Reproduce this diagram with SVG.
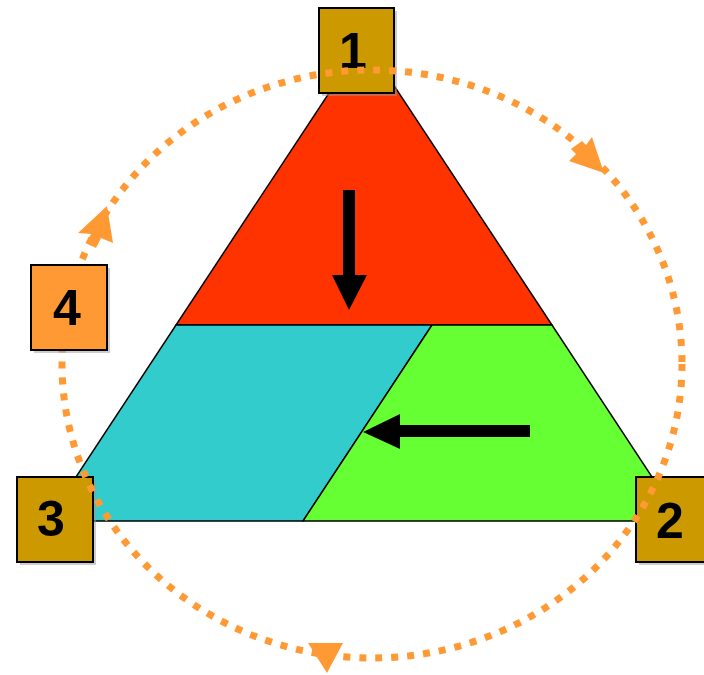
<svg xmlns="http://www.w3.org/2000/svg" width="704" height="675" viewBox="0 0 704 675">
<style>
.sec{stroke:#000;stroke-width:1.5;stroke-linejoin:miter}
.box{stroke:#000;stroke-width:2}
.shadow{fill:#999;opacity:0.5}
.num{font-family:"Liberation Sans",Arial,sans-serif;font-weight:bold;font-size:50px;fill:#000;text-anchor:middle}
.ring{fill:none;stroke:#FF9933;stroke-width:7;stroke-dasharray:7 9}
.oh{fill:#FF9933}
</style>
<rect width="704" height="675" fill="#fff"/>
<g id="triangle">
<polygon id="red" class="sec" fill="#FF3300" points="364,40 176,325 552,325"/>
<polygon id="cyan" class="sec" fill="#33CCCC" points="176,325 432,325 303,521 47,521"/>
<polygon id="green" class="sec" fill="#66FF33" points="432,325 552,325 681,521 303,521"/>
</g>
<g id="arrows-black">
<polygon fill="#000" points="343,190 355,190 355,275 367,275 349,310 332,275 343,275"/>
<polygon fill="#000" points="530,425 530,437 400,437 400,449 363,432 400,414 400,425"/>
</g>
<g id="node1"><rect class="shadow" x="322" y="11" width="75" height="85"/><rect class="box" fill="#CC9900" x="319" y="8" width="75" height="85"/><text class="num" x="353" y="68">1</text></g>
<g id="node3"><rect class="shadow" x="20" y="480" width="76" height="85"/><rect class="box" fill="#CC9900" x="17" y="477" width="76" height="85"/><text class="num" x="51" y="536">3</text></g>
<g id="node2"><rect class="shadow" x="639" y="480" width="76" height="85"/><rect class="box" fill="#CC9900" x="636" y="477" width="76" height="85"/><text class="num" x="670" y="538">2</text></g>
<g id="connectors">
<ellipse class="ring" cx="372" cy="364" rx="310" ry="294"/>
<polygon class="oh" points="604,173 569,161 576,154 571,149 582,141 586,145 592,137"/>
<polygon class="oh" points="107,206 113,243 101,238 96,248 86,243 91,234 78,233"/>
<polygon class="oh" points="308,643 343,643 327,673"/>
</g>
<g id="node4"><rect class="shadow" x="34" y="268" width="76" height="85"/><rect class="box" fill="#FF9933" x="31" y="265" width="76" height="85"/><text class="num" x="67" y="325">4</text></g>
</svg>
